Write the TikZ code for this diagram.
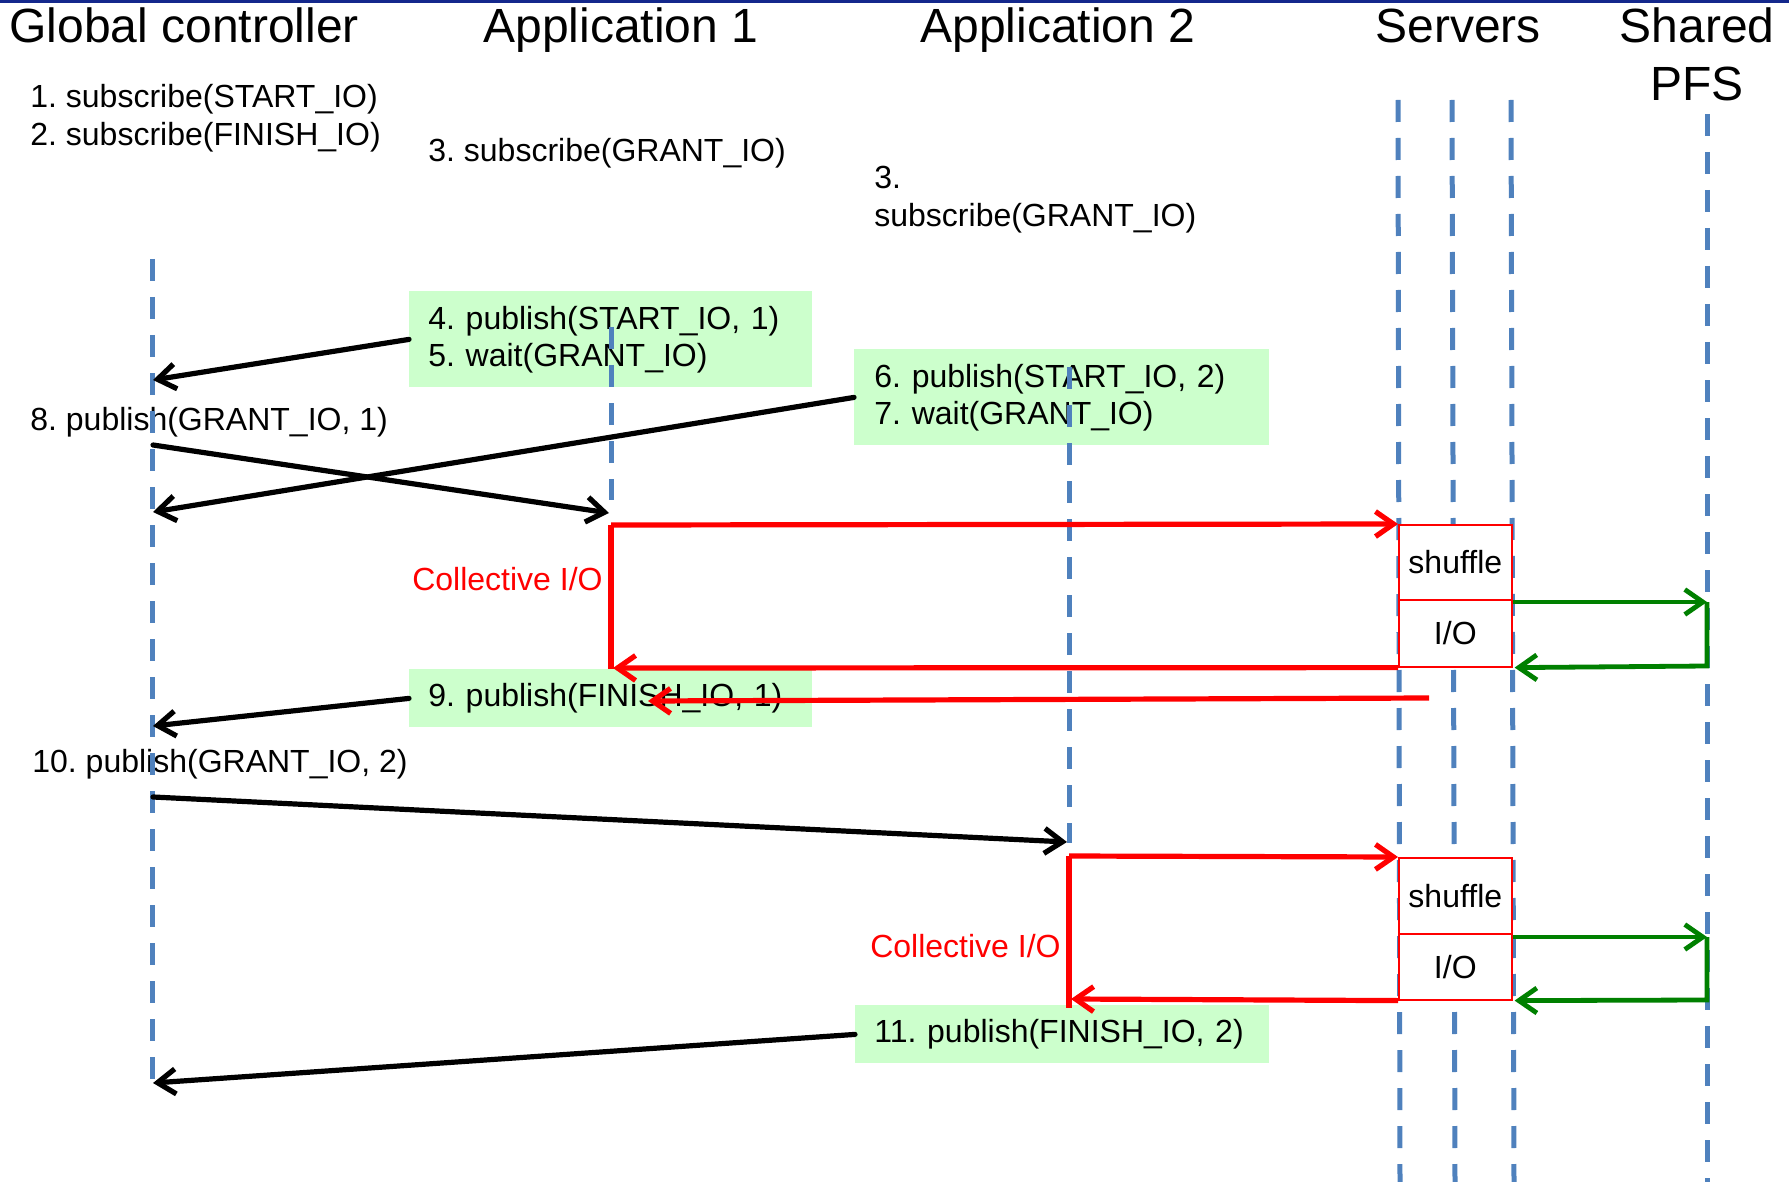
\documentclass[tikz,border=0pt]{standalone}
\usepackage{fontspec}
\setmainfont{Liberation Sans}
\frenchspacing
\usetikzlibrary{arrows.meta}
\definecolor{boxgreen}{RGB}{204,255,204}
\definecolor{lifeblue}{RGB}{79,129,189}
\definecolor{pfsgreen}{RGB}{0,128,0}
\definecolor{topnavy}{RGB}{20,40,140}
\begin{document}
\begin{tikzpicture}[x=0.5pt,y=-0.5pt,
  >={Straight Barb[length=9pt,width=12.5pt]},
  title/.style={font=\fontsize{24}{29}\selectfont, inner sep=0pt},
  lbl/.style={font=\fontsize{16}{19}\selectfont, inner sep=0pt, align=left},
  gbox/.style={fill=boxgreen, font=\fontsize{16}{18.5}\selectfont, align=left, inner ysep=0pt, anchor=north west},
  life/.style={draw=lifeblue, line width=2.5pt, dash pattern=on 11pt off 8pt},
  msg/.style={->, line width=2.6pt, black, line cap=round},
  redmsg/.style={line width=2.6pt, red},
  pfsmsg/.style={line width=2.4pt, pfsgreen},
  sbox/.style={draw=red, line width=0.8pt, fill=white, inner sep=0pt, anchor=north west, font=\fontsize{16}{19}\selectfont, minimum width=56.5pt}
]
\useasboundingbox (0,0) rectangle (1789,1182);
\fill[topnavy] (0,0) rectangle (1789,3);

% titles
\node[title, anchor=base west] (tgc) at (9,43) {Global controller};
\node[title, anchor=base west] (ta1) at (483,43) {Application 1};
\node[title, anchor=base west] (ta2) at (920,43) {Application 2};
\node[title, anchor=base west] (tsv) at (1375,43) {Servers};
\node[title, anchor=base, align=center] (tpfs) at (1697,101) {Shared\\PFS};

% plain labels (base anchor = last line)
\node[lbl, anchor=base west] (l12) at (30,146) {1. subscribe(START\_IO)\\2. subscribe(FINISH\_IO)};
\node[lbl, anchor=base west] (l3a) at (428,162) {3. subscribe(GRANT\_IO)};
\node[lbl, anchor=base west] (l3b) at (874,227) {3.\\subscribe(GRANT\_IO)};
\node[lbl, anchor=base west] (l8) at (30,430) {8. publish(GRANT\_IO, 1)};
\node[lbl, anchor=base west] (l10) at (32,772) {10. publish(GRANT\_IO, 2)};
\node[lbl, anchor=base east, text=red] (col1) at (603,590) {Collective I/O};
\node[lbl, anchor=base east, text=red] (col2) at (1061,957) {Collective I/O};

% green boxes
\node[gbox, minimum width=201.5pt, minimum height=48pt, inner xsep=9.5pt, text width=182.5pt] (b1) at (409,291) {4. publish(START\_IO, 1)\\5. wait(GRANT\_IO)};
\node[gbox, minimum width=207.5pt, minimum height=48pt, inner xsep=10pt, text width=187.5pt] (b2) at (854,349) {6. publish(START\_IO, 2)\\7. wait(GRANT\_IO)};
\node[gbox, minimum width=201.5pt, minimum height=29pt, inner xsep=9.5pt, text width=182.5pt] (b3) at (409,669) {9. publish(FINISH\_IO, 1)};
\node[gbox, minimum width=207pt, minimum height=29pt, inner xsep=9.5pt, text width=188pt] (b4) at (855,1005) {11. publish(FINISH\_IO, 2)};

% lifelines
\coordinate (gct) at (152,259);  \coordinate (gcb) at (152,1080);
\coordinate (a1t) at (611,327);  \coordinate (a1b) at (611,500);
\coordinate (a2t) at (1069,367); \coordinate (a2b) at (1069,843);
\coordinate (s1t) at (1398,100); \coordinate (s1b) at (1400,1182);
\coordinate (s2t) at (1452,100); \coordinate (s2b) at (1455,1182);
\coordinate (s3t) at (1511,100); \coordinate (s3b) at (1514,1182);
\coordinate (pt) at (1707,114);  \coordinate (pb) at (1707,1182);
\foreach \a/\b in {gct/gcb,a1t/a1b,a2t/a2b,s1t/s1b,s2t/s2b,s3t/s3b,pt/pb}
  \draw[life] (\a) -- (\b);

% server boxes
\node[sbox, minimum height=37.5pt] (sv1s) at (1398,524) {shuffle};
\node[sbox, minimum height=33.5pt] (sv1i) at (1398,599) {I/O};
\node[sbox, minimum height=38pt] (sv2s) at (1398,857) {shuffle};
\node[sbox, minimum height=33pt] (sv2i) at (1398,933) {I/O};

% message coordinates
\coordinate (g1) at (153,380);
\coordinate (g2) at (153,445);
\coordinate (g3) at (153,512);
\coordinate (g4) at (153,726);
\coordinate (g5) at (153,797);
\coordinate (g6) at (153,1083);
\coordinate (a1in) at (609,513);
\coordinate (a2in) at (1067,842);

% black messages
\draw[msg] (b1.west) -- (g1);
\draw[msg] (g2) -- (a1in);
\draw[msg] (b2.west) -- (g3);
\draw[msg] (b3.west) -- (g4);
\draw[msg] (g5) -- (a2in);
\draw[msg] (b4.west) -- (g6);

% collective I/O 1
\coordinate (c1s) at (611,525);
\coordinate (c1e) at (611,669);
\coordinate (c1b) at (613,668);
\draw[redmsg,->] (c1s) -- (sv1s.north west);
\draw[redmsg] (c1s) -- (c1e);
\draw[redmsg,->] (sv1i.south west) -- (c1b);
\coordinate (r9s) at (1429,698);
\coordinate (r9e) at (648,701);
\draw[redmsg,->] (r9s) -- (r9e);

% collective I/O 2
\coordinate (c2s) at (1069,856);
\coordinate (c2e) at (1069,1008);
\coordinate (c2b) at (1071,999);
\draw[redmsg,->] (c2s) -- (sv2s.north west);
\draw[redmsg] (c2s) -- (c2e);
\draw[redmsg,->] (sv2i.south west) -- (c2b);

% PFS exchanges
\coordinate (p1t) at (1707,602);
\coordinate (p1b) at (1707,666);
\coordinate (p2t) at (1707,937);
\coordinate (p2b) at (1707,1000);
\draw[pfsmsg,->] ([yshift=-1.5pt]sv1i.north east) -- (p1t);
\draw[pfsmsg,->] (p1t) -- (p1b) -- ([xshift=1pt]sv1i.south east);
\draw[pfsmsg,->] ([yshift=-2pt]sv2i.north east) -- (p2t);
\draw[pfsmsg,->] (p2t) -- (p2b) -- ([xshift=1pt]sv2i.south east);
\end{tikzpicture}
\end{document}
